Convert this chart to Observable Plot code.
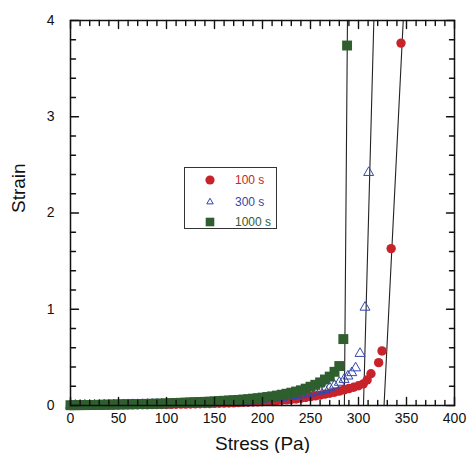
<!DOCTYPE html>
<html><head><meta charset="utf-8">
<script src="https://cdn.jsdelivr.net/npm/d3@7"></script>
<script src="https://cdn.jsdelivr.net/npm/@observablehq/plot@0.6"></script>
<style>
body{margin:0;background:#fff;font-family:"Liberation Sans",Arial,sans-serif;}
#wrap{position:relative;width:468px;height:453px;}
#legend{position:absolute;left:184px;top:167px;width:91px;height:60px;border:1px solid #333;background:#fff;}
</style></head><body>
<div id="wrap"><div id="chart"></div><div id="legend"></div></div>
<script>
// ---- data ----
const seriesNames = ["100 s", "300 s", "1000 s"];

const stress100 = [0,5,10,15,20,25,30,35,40,45,50,55,60,65,70,75,80,85,90,95,100,105,110,115,120,125,130,135,140,145,150,155,160,165,170,175,180,185,190,195,200,205,210,215,220,225,230,235,240,245,250,255,260,265,270,275,280,285,290,295,300,305,309,313,321,324.5,334,344.3];
const strain100 = [0,0.001,0.001,0.002,0.002,0.003,0.003,0.004,0.004,0.005,0.005,0.006,0.006,0.007,0.007,0.008,0.008,0.009,0.010,0.010,0.011,0.012,0.013,0.014,0.015,0.016,0.017,0.018,0.019,0.020,0.022,0.023,0.025,0.026,0.028,0.030,0.032,0.034,0.036,0.038,0.040,0.043,0.047,0.051,0.055,0.058,0.062,0.068,0.075,0.083,0.092,0.100,0.108,0.118,0.128,0.138,0.150,0.163,0.176,0.190,0.205,0.225,0.265,0.33,0.445,0.567,1.63,3.765];

const stress300 = [0,5,10,15,20,25,30,35,40,45,50,55,60,65,70,75,80,85,90,95,100,105,110,115,120,125,130,135,140,145,150,155,160,165,170,175,180,185,190,195,200,205,210,215,220,225,230,235,240,245,250,255,260,265,270,275,280,285,289,293,297,301.6,306.8,310.6];
const strain300 = [0.001,0.002,0.002,0.003,0.003,0.004,0.004,0.005,0.005,0.006,0.007,0.007,0.008,0.009,0.009,0.010,0.011,0.012,0.013,0.014,0.015,0.016,0.017,0.018,0.019,0.021,0.022,0.024,0.025,0.027,0.029,0.031,0.033,0.035,0.037,0.040,0.042,0.045,0.048,0.051,0.062,0.067,0.072,0.077,0.083,0.089,0.095,0.102,0.110,0.119,0.128,0.138,0.150,0.165,0.185,0.21,0.24,0.27,0.305,0.34,0.39,0.54,1.02,2.42];

const stress1000 = [0,5,10,15,20,25,30,35,40,45,50,55,60,65,70,75,80,85,90,95,100,105,110,115,120,125,130,135,140,145,150,155,160,165,170,175,180,185,190,195,200,205,210,215,220,225,230,235,240,245,250,255,260,265,270,275,280,284.2,288.1];
const strain1000 = [0.003,0.003,0.004,0.004,0.005,0.006,0.007,0.008,0.009,0.010,0.011,0.012,0.013,0.014,0.015,0.016,0.017,0.018,0.019,0.020,0.022,0.024,0.026,0.028,0.030,0.032,0.034,0.036,0.038,0.040,0.043,0.046,0.049,0.052,0.055,0.058,0.062,0.066,0.071,0.076,0.082,0.088,0.095,0.103,0.112,0.122,0.133,0.145,0.158,0.175,0.195,0.215,0.24,0.27,0.30,0.35,0.41,0.69,3.74];

// straight fit lines: stress at strain 0 and at strain 4
const fitStress0 = [326.6, 305.2, 285.3];
const fitStress4 = [346.6, 316.0, 288.5];
const fitStrain = [0, 4];

// ticks
const xMajor = [0,50,100,150,200,250,300,350,400];
const xMinor = [10,20,30,40,60,70,80,90,110,120,130,140,160,170,180,190,210,220,230,240,260,270,280,290,310,320,330,340,360,370,380,390];
const yMajor = [0,1,2,3,4];
const yMinor = [0.2,0.4,0.6,0.8,1.2,1.4,1.6,1.8,2.2,2.4,2.6,2.8,3.2,3.4,3.6,3.8];

// ---- build ----
const colors = ["#c8232b", "#3447a8", "#2f5e2f"];
const rows = (xs, ys) => xs.map((x, i) => ({x, y: ys[i]}));
const d100 = rows(stress100, strain100);
const d300 = rows(stress300, strain300);
const d1000 = rows(stress1000, strain1000);
const fitRows = [];
fitStress0.forEach((s0, i) => {
  fitRows.push({x: s0, y: fitStrain[0], k: i});
  fitRows.push({x: fitStress4[i], y: fitStrain[1], k: i});
});

const W = 468, H = 453, mL = 70, mR = 14, mT = 20, mB = 48;
const pw = W - mL - mR, ph = H - mT - mB;
const xDom = [0, 400], yDom = [0, 4];
// tick lengths converted from pixels into data units
const xPerPx = (xDom[1] - xDom[0]) / pw, yPerPx = (yDom[1] - yDom[0]) / ph;

// tick segments (two rows per tick, grouped by key)
const tickRows = [];
let tk = 0;
function addX(vals, len) {
  vals.forEach(v => {
    tickRows.push({x: v, y: yDom[0], k: tk}, {x: v, y: yDom[0] + len * yPerPx, k: tk}); tk++;
    tickRows.push({x: v, y: yDom[1], k: tk}, {x: v, y: yDom[1] - len * yPerPx, k: tk}); tk++;
  });
}
function addY(vals, len) {
  vals.forEach(v => {
    tickRows.push({x: xDom[0], y: v, k: tk}, {x: xDom[0] + len * xPerPx, y: v, k: tk}); tk++;
    tickRows.push({x: xDom[1], y: v, k: tk}, {x: xDom[1] - len * xPerPx, y: v, k: tk}); tk++;
  });
}
addX(xMajor, 8); addX(xMinor, 5); addY(yMajor, 8); addY(yMinor, 5);

const chart = Plot.plot({
  width: W, height: H,
  marginLeft: mL, marginRight: mR, marginTop: mT, marginBottom: mB,
  x: {domain: xDom},
  y: {domain: yDom},
  style: {fontFamily: "'Liberation Sans', Arial, sans-serif", background: "white", color: "#111"},
  marks: [
    Plot.line(fitRows, {x: "x", y: "y", z: "k", stroke: "#222", strokeWidth: 1.1}),
    Plot.dot(d100, {x: "x", y: "y", r: 4.7, symbol: "circle", fill: colors[0]}),
    Plot.dot(d300, {x: "x", y: "y", r: 3.7, symbol: "triangle", fill: "none", stroke: colors[1], strokeWidth: 1}),
    Plot.dot(d1000, {x: "x", y: "y", r: 5.6, symbol: "square", fill: colors[2]}),
    Plot.frame({stroke: "#111", strokeWidth: 1.5}),
    Plot.line(tickRows, {x: "x", y: "y", z: "k", stroke: "#111", strokeWidth: 1.4}),
    Plot.axisX(xMajor, {tickSize: 0, tickPadding: 8, fontSize: 14, label: null, tickFormat: d3.format("d")}),
    Plot.axisY(yMajor, {tickSize: 0, tickPadding: 16, fontSize: 14, label: null, tickFormat: d3.format("d")}),
    Plot.text(["Stress (Pa)"], {frameAnchor: "bottom", dy: 38, fontSize: 19, lineAnchor: "middle"}),
    Plot.text(["Strain"], {frameAnchor: "left", dx: -52, rotate: -90, fontSize: 19, lineAnchor: "middle"})
  ]
});
document.getElementById("chart").appendChild(chart);

// legend
const leg = d3.select("#legend").append("svg").attr("width", 91).attr("height", 60)
  .style("position", "absolute").style("left", 0).style("top", 0);
const rowY = [12, 34, 54];
seriesNames.forEach((name, i) => {
  const g = leg.append("g").attr("transform", `translate(25,${rowY[i]})`);
  if (i === 0) g.append("circle").attr("r", 4.6).attr("fill", colors[0]);
  if (i === 1) g.append("path").attr("d", d3.symbol(d3.symbolTriangle, 18)()).attr("fill", "none").attr("stroke", colors[1]).attr("stroke-width", 1);
  if (i === 2) g.append("rect").attr("x", -4.3).attr("y", -4.3).attr("width", 8.6).attr("height", 8.6).attr("fill", colors[2]);
  leg.append("text").attr("x", 50).attr("y", rowY[i]).attr("dy", "0.35em")
    .attr("font-size", 12).attr("font-family", "'Liberation Sans', Arial, sans-serif")
    .attr("fill", colors[i]).text(name);
});
</script>
</body></html>
